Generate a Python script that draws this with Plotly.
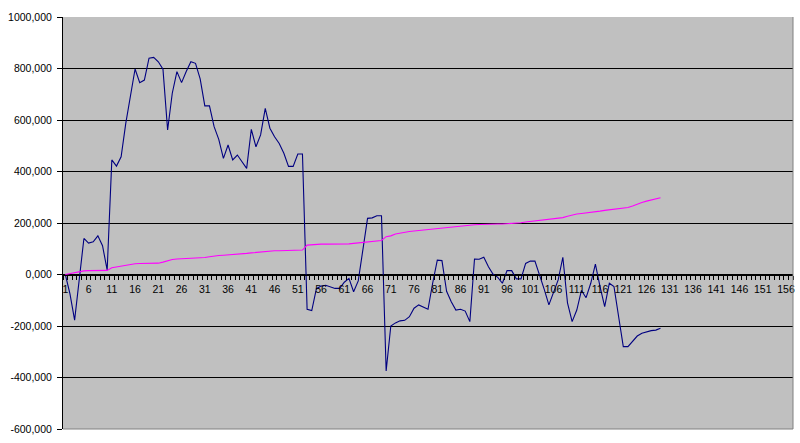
import plotly.graph_objects as go

categories = list(range(1, 130))

series_navy = [
    0, -75000, -177000, -20000, 140000, 122000, 127000, 150000, 112000, 17000,
    445000, 421000, 457000, 587000, 690000, 798000, 745000, 755000, 840000, 843000,
    826000, 797000, 561000, 704000, 788000, 745000, 788000, 826000, 820000, 760000,
    655000, 655000, 574000, 525000, 451000, 503000, 445000, 464000, 438000, 412000,
    564000, 496000, 542000, 645000, 568000, 535000, 509000, 471000, 420000, 420000,
    468000, 468000, -135000, -140000, -55000, -45000, -42000, -47000, -54000, -54000,
    -30000, -15000, -67000, -25000, 95000, 218000, 220000, 228000, 228000, -375000,
    -200000, -188000, -180000, -178000, -164000, -131000, -118000, -128000, -135000, -34000,
    56000, 54000, -65000, -106000, -138000, -135000, -142000, -183000, 60000, 59000,
    67000, 30000, 1000, -11000, -34000, 15000, 15000, -17000, -17000, 43000,
    52000, 52000, 1000, -58000, -118000, -73000, -21000, 67000, -110000, -183000,
    -138000, -62000, -90000, -34000, 40000, -47000, -125000, -34000, -47000, -164000,
    -280000, -280000, -261000, -239000, -228000, -222000, -218000, -216000, -209000,
]

series_magenta = [
    0, 4000, 8000, 12000, 14000, 15000, 15000, 15000, 15000, 16000,
    26000, 29000, 33000, 37000, 39000, 42000, 43000, 43000, 43000, 43000,
    44000, 48000, 53000, 58000, 60000, 61000, 62000, 62000, 63000, 64000,
    66000, 69000, 72000, 74000, 75000, 76000, 77000, 78000, 80000, 82000,
    84000, 86000, 88000, 90000, 91000, 92000, 92000, 93000, 93000, 94000,
    94000, 95000, 114000, 116000, 117000, 118000, 118000, 118000, 118000, 118000,
    118000, 119000, 121000, 123000, 125000, 127000, 129000, 131000, 132000, 147000,
    150000, 157000, 161000, 164000, 167000, 169000, 171000, 173000, 175000, 177000,
    179000, 181000, 183000, 185000, 187000, 189000, 190000, 192000, 193000, 194000,
    195000, 196000, 196000, 196000, 196000, 197000, 197000, 198000, 201000, 204000,
    206000, 208000, 209000, 211000, 213000, 215000, 218000, 221000, 226000, 231000,
    235000, 237000, 239000, 240000, 243000, 246000, 249000, 251000, 253000, 255000,
    257000, 260000, 266000, 274000, 280000, 285000, 289000, 292000, 298000,
]

x_tick_vals = list(range(1, 157, 5))
x_tick_text = [str(v) for v in x_tick_vals]

y_tick_vals = [-600000, -400000, -200000, 0, 200000, 400000, 600000, 800000, 1000000]
y_tick_text = ["-600,000", "-400,000", "-200,000", "0,000", "200,000",
               "400,000", "600,000", "800,000", "1000,000"]

font = dict(family="Liberation Sans, Arial, sans-serif", size=10.5, color="#000000")

fig = go.Figure()
fig.add_trace(go.Scatter(x=categories, y=series_navy, mode="lines",
                         line=dict(color="#000080", width=1.1), showlegend=False))
fig.add_trace(go.Scatter(x=categories, y=series_magenta, mode="lines",
                         line=dict(color="#FF00FF", width=1.1), showlegend=False))

fig.update_layout(
    width=800, height=443,
    margin=dict(l=63, r=7, t=17, b=14),
    paper_bgcolor="#FFFFFF",
    plot_bgcolor="#C0C0C0",
    font=font,
    showlegend=False,
    xaxis=dict(
        range=[0.5, 157.5],
        anchor="free", position=0.375,
        automargin=False,
        tickmode="array", tickvals=x_tick_vals, ticktext=x_tick_text,
        ticks="", ticklabelstandoff=5,
        showgrid=False, zeroline=False,
        showline=True, linecolor="#000000", linewidth=1,
        tickfont=font,
        minor=dict(tickmode="linear", tick0=0.5, dtick=1, ticks="outside",
                   ticklen=4, tickcolor="#000000", tickwidth=1, showgrid=False),
    ),
    yaxis=dict(
        range=[-600000, 1000000],
        automargin=False,
        tickmode="array", tickvals=y_tick_vals, ticktext=y_tick_text,
        ticks="outside", ticklen=5, tickcolor="#000000", ticklabelstandoff=3,
        showgrid=True, gridcolor="#000000", gridwidth=1,
        zeroline=False,
        showline=True, linecolor="#000000", linewidth=1,
        tickfont=font,
    ),
    shapes=[
        dict(type="line", xref="paper", yref="paper", x0=1, x1=1, y0=0, y1=1,
             line=dict(color="#808080", width=1)),
        dict(type="line", xref="paper", yref="paper", x0=0, x1=1, y0=0, y1=0,
             line=dict(color="#808080", width=1)),
    ],
)

fig.write_html("out.html",
               config={"displayModeBar": False},
               post_script="document.body.style.margin='0';document.body.style.overflow='hidden';")
